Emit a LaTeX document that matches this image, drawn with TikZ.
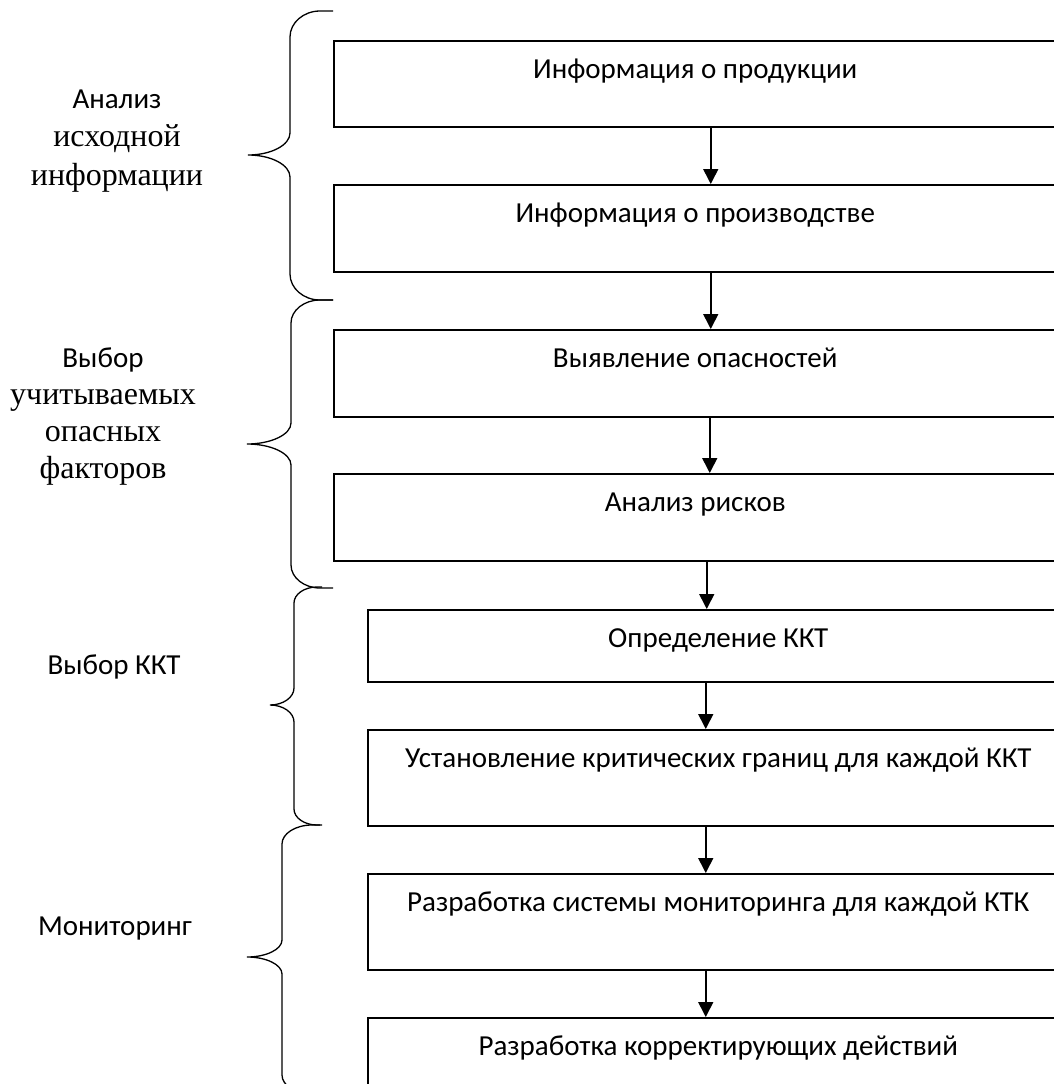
\documentclass[tikz,border=0pt]{standalone}
\usepackage{fontspec}
\setmainfont{Carlito}
\newfontfamily\serifcyr{Liberation Serif}
\usetikzlibrary{positioning, arrows.meta}

\begin{document}
\begin{tikzpicture}[x=1pt, y=-1pt, node distance=56.5pt,
    stage/.style={draw, line width=1.5pt, rectangle, inner sep=0pt, anchor=north,
      font=\fontsize{29}{34}\selectfont, text height=38pt},
    flow/.style={line width=1.6pt, -{Triangle[length=15pt,width=15pt]}},
    bracel/.style={line width=1.3pt},
    group/.style={align=center, font=\fontsize{29}{38.5}\selectfont}]

  \useasboundingbox (0,0) rectangle (1053,1084);

  % stages
  \node[stage, minimum width=723pt, text depth=48pt, anchor=north west] (Prod) at (333,40) {Информация о продукции};
  \node[stage, minimum width=723pt, text depth=49pt] (Proizv) [below=of Prod] {Информация о производстве};
  \node[stage, minimum width=723pt, text depth=49pt] (Opasn) [below=of Proizv] {Выявление опасностей};
  \node[stage, minimum width=723pt, text depth=49pt] (Risk) [below=55.5pt of Opasn] {Анализ рисков};
  \node[stage, minimum width=701pt, text depth=34pt] (KKT) [below=47.5pt of Risk.south west, anchor=north west, xshift=34pt] {Определение ККТ};
  \node[stage, minimum width=701pt, text depth=58pt] (Gran) [below=46.5pt of KKT] {Установление критических границ для каждой ККТ};
  \node[stage, minimum width=701pt, text depth=58pt] (Monit) [below=46.5pt of Gran] {Разработка системы мониторинга для каждой КТК};
  \node[stage, minimum width=701pt, text depth=60pt] (Korr) [below=46.5pt of Monit] {Разработка корректирующих действий};

  \draw[flow] ([xshift=15.5pt]Prod.south) -- ([xshift=15.5pt]Proizv.north);
  \draw[flow] ([xshift=15.5pt]Proizv.south) -- ([xshift=15.5pt]Opasn.north);
  \draw[flow] ([xshift=14.5pt]Opasn.south) -- ([xshift=14.5pt]Risk.north);
  \draw[flow] ([xshift=11.5pt]Risk.south) -- ([xshift=-11.5pt]KKT.north);
  \draw[flow] ([xshift=-12.5pt]KKT.south) -- ([xshift=-12.5pt]Gran.north);
  \draw[flow] ([xshift=-12.5pt]Gran.south) -- ([xshift=-12.5pt]Monit.north);
  \draw[flow] ([xshift=-12.5pt]Monit.south) -- ([xshift=-12.5pt]Korr.north);

  % braces: end x / top / spine x / tip x / tip y / bottom / end curve / tip curve / straight part
  \foreach \E/\T/\S/\P/\M/\B/\a/\b/\h in {333/11/290/248/155/300/26/22/13,
      333/300/291/247/444/588/23/21/13, 322/587/294/270/705/825/16/17/5,
      320/825/282/247/957/1094/19/17/8}
    \draw[bracel] (\E,\T) -- ({\E-\h},\T)
      .. controls ({\S+0.45*(\E-\h-\S)},\T) and (\S,{\T+0.45*\a}) .. (\S,{\T+\a})
      -- (\S,{\M-\b})
      .. controls (\S,{\M-0.45*\b}) and ({\P+0.55*(\S-\P)},\M) .. (\P,\M)
      .. controls ({\P+0.55*(\S-\P)},\M) and (\S,{\M+0.45*\b}) .. (\S,{\M+\b})
      -- (\S,{\B-\a})
      .. controls (\S,{\B-0.45*\a}) and ({\S+0.45*(\E-\h-\S)},\B) .. ({\E-\h},\B)
      -- (\E,\B);

  % group labels
  \node[group] (AnIsh) at (117,141) {Анализ\\{\serifcyr\fontsize{32}{38.5}\selectfont исходной}\\{\serifcyr\fontsize{32}{38.5}\selectfont информации}};
  \node[group, font=\fontsize{29}{37}\selectfont] (VybOp) at (103,417) {Выбор\\{\serifcyr\fontsize{32}{37}\selectfont учитываемых}\\{\serifcyr\fontsize{32}{37}\selectfont опасных}\\{\serifcyr\fontsize{32}{37}\selectfont факторов}};
  \node[group, anchor=base] (VybKKT) at (114,674) {Выбор ККТ};
  \node[group, anchor=base] (Mon) at (115,935) {Мониторинг};

\end{tikzpicture}
\end{document}
